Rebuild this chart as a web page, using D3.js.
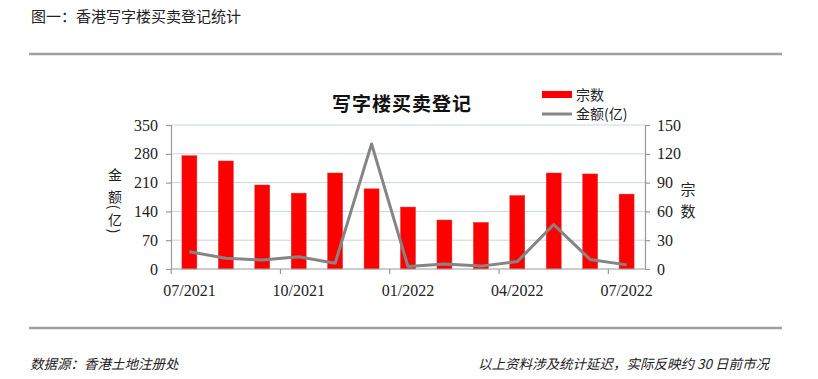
<!DOCTYPE html>
<html><head><meta charset="utf-8">
<script src="https://cdn.jsdelivr.net/npm/d3@7"></script>
<style>body{margin:0;background:#fff}svg{display:block}</style>
</head><body>
<script>
const months = ["07/2021","08/2021","09/2021","10/2021","11/2021","12/2021","01/2022","02/2022","03/2022","04/2022","05/2022","06/2022","07/2022"];
const deals = [118,112.5,87.5,79,100,83.5,64.5,51,48.5,76.5,100,99,78];        // 宗数 (bars, right axis)
const amounts = [42,26,22,30,14,304,6,12,7,18,108,23,10];                    // 金额(亿) (line, left axis)
const leftTicks = [0,70,140,210,280,350];
const rightTicks = [0,30,60,90,120,150];
const xTickLabels = ["07/2021","10/2021","01/2022","04/2022","07/2022"];

const W=818,H=379;
const svg=d3.select("body").append("svg").attr("width",W).attr("height",H);
const serif="'Liberation Serif','Times New Roman',serif";
const cjk="'Noto Sans CJK SC','Noto Sans',sans-serif";

// header
svg.append("text").attr("x",31).attr("y",22).attr("font-family",cjk).attr("font-size",15).attr("fill","#222").text("图一：香港写字楼买卖登记统计");
svg.append("line").attr("x1",29).attr("x2",782).attr("y1",54).attr("y2",54).attr("stroke","#a0a0a0").attr("stroke-width",2.5);
svg.append("line").attr("x1",29).attr("x2",782).attr("y1",328).attr("y2",328).attr("stroke","#a0a0a0").attr("stroke-width",2.5);
svg.append("text").attr("x",30).attr("y",369).attr("font-family",cjk).attr("font-size",13.5).attr("font-style","italic").attr("fill","#222").text("数据源：香港土地注册处");
svg.append("text").attr("x",769).attr("y",369).attr("text-anchor","end").attr("font-family",cjk).attr("font-size",13.5).attr("font-style","italic").attr("fill","#222").text("以上资料涉及统计延迟，实际反映约 30 日前市况");

const L=171,R=645,T=125,B=269;
const x=d3.scaleBand().domain(months).range([L,R]).paddingInner(0.59).paddingOuter(0.3);
const yL=d3.scaleLinear().domain([0,350]).range([B,T]);
const yR=d3.scaleLinear().domain([0,150]).range([B,T]);

// gridlines
svg.append("g").selectAll("line").data(leftTicks.slice(1)).join("line")
  .attr("x1",L).attr("x2",R).attr("y1",d=>yL(d)).attr("y2",d=>yL(d))
  .attr("stroke","#c9d6e8").attr("stroke-width",1);

// bars
svg.append("g").selectAll("rect").data(months).join("rect")
  .attr("x",d=>x(d)).attr("width",x.bandwidth())
  .attr("y",(d,i)=>yR(deals[i])).attr("height",(d,i)=>B-yR(deals[i]))
  .attr("fill","#ff0000").attr("stroke","#e03030").attr("stroke-width",0.5);

// line
const line=d3.line().x((d,i)=>x(months[i])+x.bandwidth()/2).y(d=>yL(d));
svg.append("path").datum(amounts).attr("d",line).attr("fill","none").attr("stroke","#858585").attr("stroke-width",3).attr("stroke-linejoin","round");

// axes
const axisCol="#999";
const gl=svg.append("g").attr("transform",`translate(${L},0)`).call(d3.axisLeft(yL).tickValues(leftTicks).tickSize(5).tickPadding(8));
const gr=svg.append("g").attr("transform",`translate(${R},0)`).call(d3.axisRight(yR).tickValues(rightTicks).tickSize(5).tickPadding(7));
const step=x.step();
const bandStart=m=>x(m)-x.paddingOuter()*step; // unused fallback
const xb=d3.scalePoint().domain(months).range([L+step*0.3+x.bandwidth()/2,R-step*0.3-x.bandwidth()/2]);
const gx=svg.append("g").attr("transform",`translate(0,${B})`).call(d3.axisBottom(x).tickValues(xTickLabels).tickSize(0).tickPadding(16));
[gl,gr,gx].forEach(g=>{
  g.select(".domain").attr("stroke",axisCol).attr("stroke-width",1.2);
  g.selectAll(".tick line").attr("stroke",axisCol).attr("stroke-width",1.2);
  g.selectAll("text").attr("font-family",serif).attr("font-size",16).attr("fill","#222");
});
gx.select(".domain").attr("d",`M${L},0H${R}`);
// x tick marks at band boundaries (every 3rd month)
const tickMonths=xTickLabels;
svg.append("g").selectAll("line").data(tickMonths).join("line")
  .attr("x1",d=>x(d)+x.bandwidth()/2-step/2).attr("x2",d=>x(d)+x.bandwidth()/2-step/2)
  .attr("y1",B).attr("y2",B+5).attr("stroke",axisCol).attr("stroke-width",1.2);

// chart title
svg.append("text").attr("x",402).attr("y",111).attr("text-anchor","middle").attr("font-family",cjk).attr("font-weight","bold").attr("font-size",19).attr("letter-spacing",1).attr("fill","#111").text("写字楼买卖登记");

// legend
svg.append("rect").attr("x",542).attr("y",91).attr("width",30).attr("height",7).attr("fill","#ff0000");
svg.append("text").attr("x",576).attr("y",100).attr("font-family",cjk).attr("font-size",14).attr("fill","#222").text("宗数");
svg.append("line").attr("x1",542).attr("x2",572).attr("y1",114).attr("y2",114).attr("stroke","#858585").attr("stroke-width",3);
svg.append("text").attr("x",576).attr("y",119).attr("font-family",cjk).attr("font-size",14).attr("fill","#222").text("金额(亿)");

// left axis title (vertical)
const lt=[["金",174,0],["额",196,0],["(",207,90],["亿",219,0],[")",231,90]];
svg.append("g").selectAll("text").data(lt).join("text")
  .attr("transform",d=>`translate(115,${d[1]}) rotate(${d[2]})`)
  .attr("text-anchor","middle").attr("dominant-baseline","central")
  .attr("font-family",cjk).attr("font-size",14).attr("fill","#222").text(d=>d[0]);
// right axis title
svg.append("g").selectAll("text").data([["宗",188],["数",210]]).join("text")
  .attr("x",688).attr("y",d=>d[1]).attr("text-anchor","middle").attr("dominant-baseline","central")
  .attr("font-family",cjk).attr("font-size",15).attr("fill","#222").text(d=>d[0]);
</script>
</body></html>
